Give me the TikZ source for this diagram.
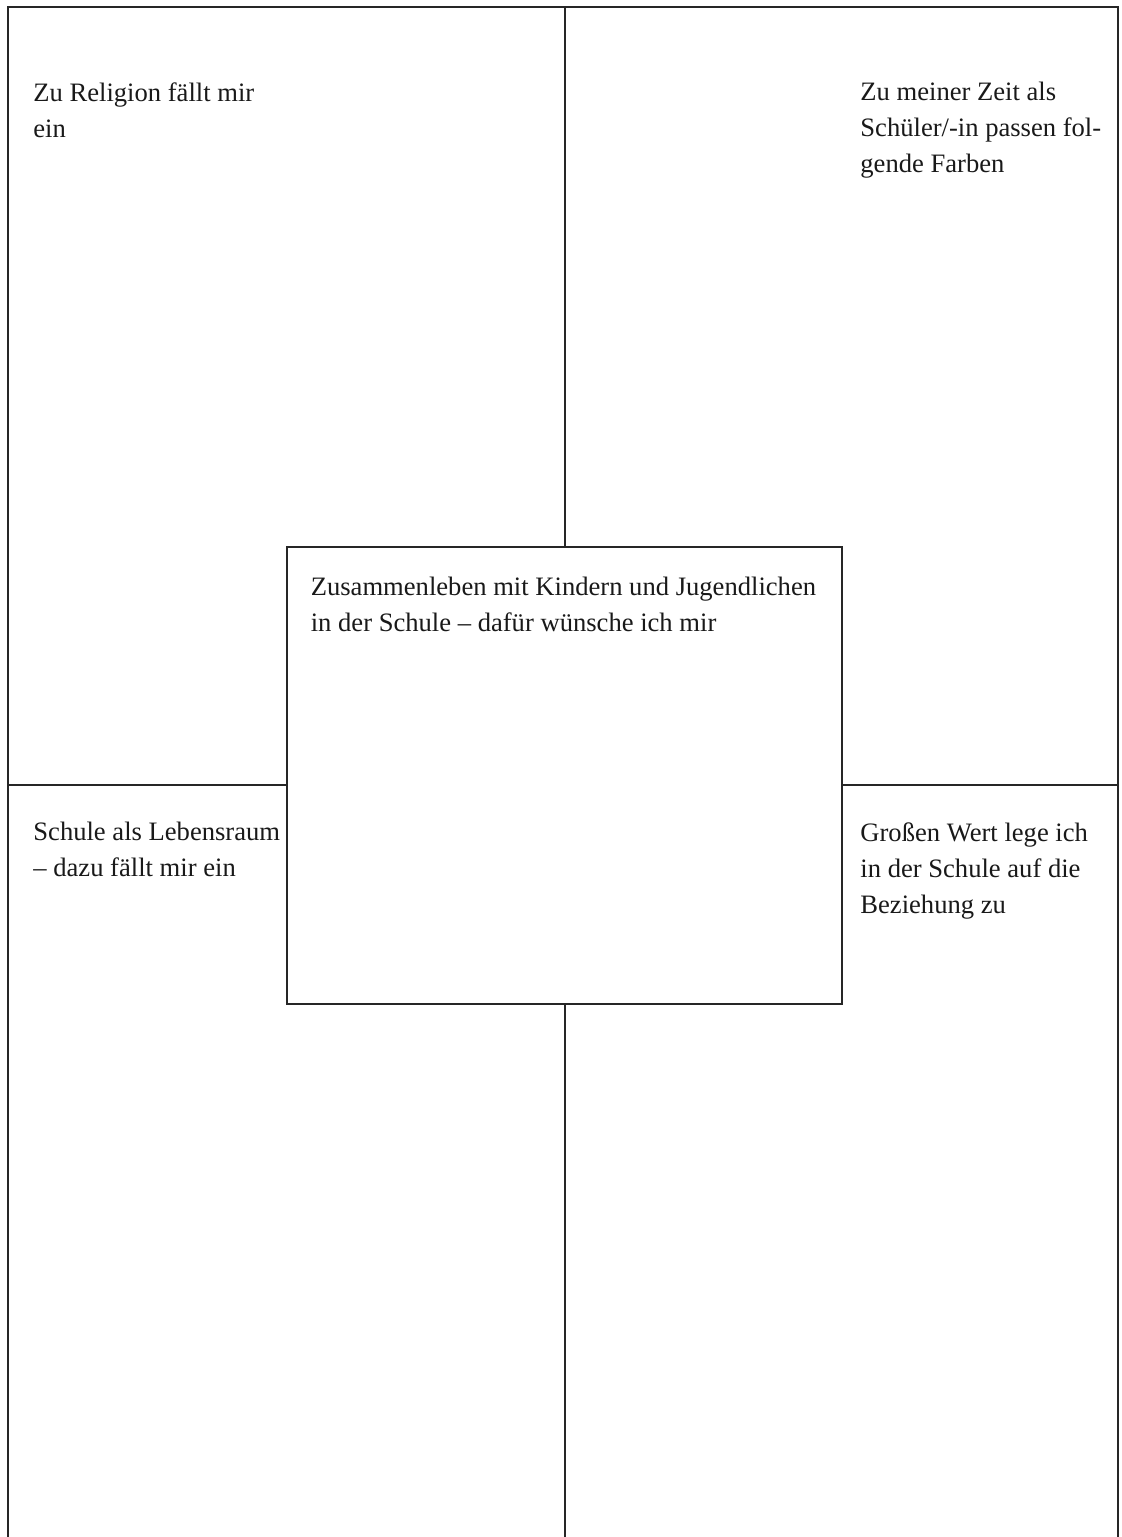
\documentclass[tikz,border=0pt]{standalone}
\usepackage{fontspec}
\setmainfont{Liberation Serif}
\usetikzlibrary{positioning}
\tikzset{
  % thin lines of the sheet and of the middle field
  sheet/.style={draw, line width=0.6pt, black!85},
  field/.style={rectangle, draw, line width=0.6pt, black!85,
  minimum width=277.5pt,
  minimum height=228.5pt, inner sep=0pt},
  prompt/.style={anchor=north west, align=left, inner sep=0pt, text=black!90,
  font=\fontsize{13.3}{18}\selectfont}}

\begin{document}
\begin{tikzpicture}[x=0.5pt,y=-0.5pt]
\useasboundingbox (0,0) rectangle (1121,1537);

% corners of the open frame
\coordinate (bl) at (8,1537);
\coordinate (tl) at (8,7);
\coordinate (tr) at (1118,7);
\coordinate (br) at (1118,1537);
\draw [sheet] (bl) -- (tl) -- (tr) -- (br);

% middle field
\draw (564.5,775.5) node (wish) [field] {};

\coordinate (topmid) at (565,7);
\coordinate (botmid) at (565,1537);
\coordinate (lmid) at (8,785);
\coordinate (rmid) at (1118,785);

\draw [sheet] (topmid) -- (topmid |- wish.north);
\draw [sheet] (botmid) -- (botmid |- wish.south);
\draw [sheet] (lmid) -- (lmid -| wish.west);
\draw [sheet] (rmid) -- (rmid -| wish.east);

% the five prompts
\draw (33,82) node (religion) [prompt] {Zu Religion fällt mir\\ein};
\draw (860,82) node (farben) [prompt] {Zu meiner Zeit als\\Schüler/-in passen fol-\\gende Farben};
\draw (wish.north west) ++(24,30) node (wunsch) [prompt] {Zusammenleben mit Kindern und Jugendlichen\\in der Schule – dafür wünsche ich mir};
\draw (33,822) node (lebensraum) [prompt] {Schule als Lebensraum\\– dazu fällt mir ein};
\draw (860,822) node (beziehung) [prompt] {Großen Wert lege ich\\in der Schule auf die\\Beziehung zu};

\end{tikzpicture}
\end{document}
